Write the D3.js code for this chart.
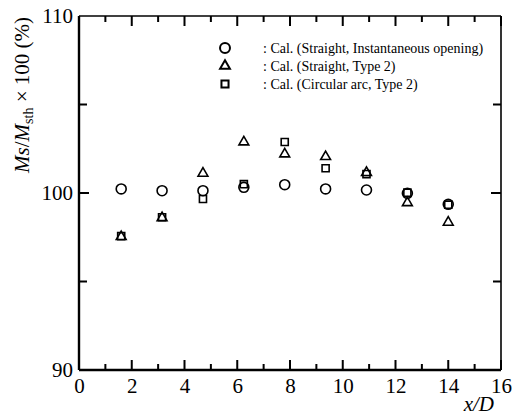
<!DOCTYPE html>
<html lang="en">
<head>
<meta charset="UTF-8">
<title>ms-msth-scatter</title>
<script src="https://cdn.jsdelivr.net/npm/d3@7/dist/d3.min.js"></script>
</head>
<body style="margin:0;background:#fff">
<svg id="chart"></svg>
<script>
// data
var xPos = [1.6, 3.15, 4.7, 6.25, 7.8, 9.35, 10.9, 12.45, 14.0];
var instOpening = [100.23, 100.13, 100.13, 100.32, 100.47, 100.23, 100.17, 99.98, 99.36];
var straightType2 = [97.53, 98.6, 101.11, 102.88, 102.2, 102.05, 101.15, 99.45, 98.34];
var arcType2 = [97.56, 98.63, 99.66, 100.5, 102.88, 101.4, 101.07, 100.02, 99.34];
var seriesNames = [
    "Cal. (Straight, Instantaneous opening)",
    "Cal. (Straight, Type 2)",
    "Cal. (Circular arc, Type 2)"
];
var xTicks = [0, 2, 4, 6, 8, 10, 12, 14, 16];
var xMinor = [1, 3, 5, 7, 9, 11, 13, 15];
var yTicks = [90, 100, 110];
var yMinor = [95, 105];

var FONT = 'Liberation Serif';
var width = 531, height = 420;
var margin = {top: 16, right: 30, bottom: 50, left: 79};
var w = width - margin.left - margin.right;
var h = height - margin.top - margin.bottom;

var svg = d3.select('#chart').attr('width', width).attr('height', height)
    .attr('font-family', FONT);
var g = svg.append('g').attr('transform', 'translate(' + margin.left + ',' + margin.top + ')');

var x = d3.scaleLinear().domain([0, 16]).range([0, w]);
var y = d3.scaleLinear().domain([90, 110]).range([h, 0]);

// tick labels from d3 axes
var xAxis = g.append('g')
    .attr('transform', 'translate(0,' + h + ')')
    .call(d3.axisBottom(x).tickValues(xTicks).tickSize(0).tickPadding(5));
var yAxis = g.append('g')
    .call(d3.axisLeft(y).tickValues(yTicks).tickSize(0).tickPadding(6).tickFormat(d3.format('d')));
[xAxis, yAxis].forEach(function (a) {
    a.attr('font-family', FONT);
    a.select('.domain').remove();
    a.selectAll('.tick text').attr('fill', '#000').attr('font-size', 21);
});
xAxis.selectAll('.tick text').attr('dy', '0.85em');

var symCircle = d3.symbol().type(d3.symbolCircle).size(78);
var symTri = d3.symbol().type(d3.symbolTriangle).size(42);
var symSquare = d3.symbol().type(d3.symbolSquare).size(50);
var symbols = [symCircle, symTri, symSquare];
var allSeries = [instOpening, straightType2, arcType2];

allSeries.forEach(function (vals, k) {
    g.selectAll('.s' + k)
        .data(vals)
        .enter()
        .append('path')
        .attr('class', 's' + k)
        .attr('d', symbols[k])
        .attr('transform', function (d, i) {
            return 'translate(' + x(xPos[i]) + ',' + y(d) + ')';
        })
        .attr('fill', 'none')
        .attr('stroke', '#000')
        .attr('stroke-width', 1.6);
});

// inward tick marks on all four sides, one path
var tp = d3.path();
function xTickMarks(vals, len) {
    vals.forEach(function (d) {
        tp.moveTo(x(d), h); tp.lineTo(x(d), h - len);
        tp.moveTo(x(d), 0); tp.lineTo(x(d), len);
    });
}
function yTickMarks(vals, len) {
    vals.forEach(function (d) {
        tp.moveTo(0, y(d)); tp.lineTo(len, y(d));
        tp.moveTo(w, y(d)); tp.lineTo(w - len, y(d));
    });
}
xTickMarks(xTicks, 10);
xTickMarks(xMinor, 6);
yTickMarks([100], 10);
yTickMarks(yMinor, 8);
g.append('path').attr('d', tp.toString())
    .attr('fill', 'none').attr('stroke', '#000').attr('stroke-width', 2);

// frame
function frameLine(x1, y1, x2, y2, sw) {
    g.append('line').attr('x1', x1).attr('y1', y1).attr('x2', x2).attr('y2', y2)
        .attr('stroke', '#000').attr('stroke-width', sw);
}
frameLine(0, 0, w, 0, 1.6);
frameLine(w, 0, w, h, 1.6);
frameLine(0, h, w, h, 2.4);
frameLine(0, 0, 0, h, 2.4);

// legend
var legend = svg.append('g').attr('transform', 'translate(225,48)');
seriesNames.forEach(function (name, k) {
    var row = legend.append('g').attr('transform', 'translate(0,' + (k * 18) + ')');
    row.append('path').attr('d', symbols[k])
        .attr('fill', 'none').attr('stroke', '#000').attr('stroke-width', 2);
    row.append('text').attr('x', 38).attr('dy', '0.35em')
        .attr('font-size', 14).attr('font-family', FONT)
        .text(':  ' + name);
});

// axis titles
svg.append('text')
    .attr('x', 494).attr('y', 411)
    .attr('text-anchor', 'end')
    .attr('font-size', 21)
    .attr('font-style', 'italic')
    .attr('font-family', FONT)
    .text('x/D');

var yt = svg.append('text')
    .attr('transform', 'translate(29,95) rotate(-90)')
    .attr('text-anchor', 'middle')
    .attr('font-family', FONT)
    .attr('font-size', 21);
yt.append('tspan').attr('font-style', 'italic').text('Ms');
yt.append('tspan').text('/');
yt.append('tspan').attr('font-style', 'italic').text('M');
yt.append('tspan').attr('font-size', 14).attr('dy', 4).text('sth');
yt.append('tspan').attr('dy', -4).text(' \u00d7 100  (%)');
</script>
</body>
</html>
